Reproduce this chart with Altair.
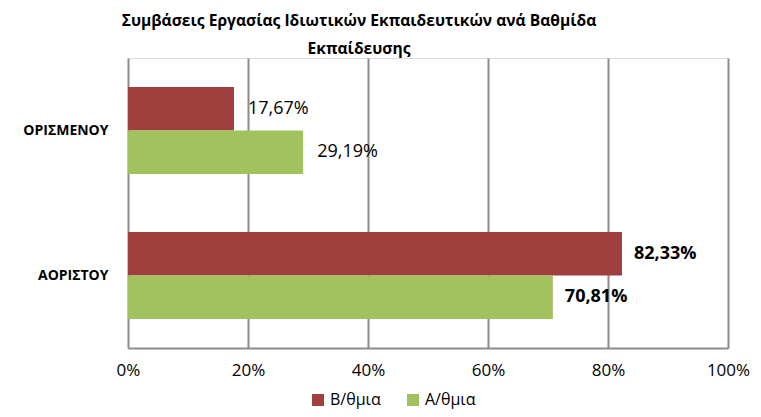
import altair as alt
import pandas as pd

categories = ["ΟΡΙΣΜΕΝΟΥ", "ΑΟΡΙΣΤΟΥ"]
series = ["Β/θμια", "Α/θμια"]
values_b = [17.67, 82.33]
values_a = [29.19, 70.81]
colors = ["#A0403E", "#A2C25F"]
tick_values = [0, 0.2, 0.4, 0.6, 0.8, 1.0]

rows = []
for i, c in enumerate(categories):
    for s, vals in zip(series, [values_b, values_a]):
        v = vals[i]
        rows.append({"cat": c, "series": s, "value": v / 100,
                     "label": f"{v:.2f}".replace(".", ",") + "%"})
df = pd.DataFrame(rows)

font = "Open Sans"

y = alt.Y("cat:N", sort=categories, title=None,
          scale=alt.Scale(paddingInner=0.40, paddingOuter=0.20),
          axis=alt.Axis(labelFontWeight="bold", labelFontSize=14, labelPadding=20,
                        ticks=False, domain=False, labelColor="black", labelFont=font))
yoff = alt.YOffset("series:N", sort=series)
x = alt.X("value:Q", scale=alt.Scale(domain=[0, 1]),
          axis=alt.Axis(format=".0%", values=tick_values, grid=True, gridColor="#8c8c8c",
                        gridWidth=2, domainColor="#8c8c8c", domainWidth=2, ticks=False,
                        labelFontSize=17, labelPadding=14, labelColor="black",
                        labelFlush=False, labelFont=font, title=None))

base = alt.Chart(df)
bars = base.mark_bar(opacity=1).encode(
    x=x, y=y, yOffset=yoff,
    color=alt.Color("series:N", sort=series,
                    scale=alt.Scale(domain=series, range=colors),
                    legend=alt.Legend(title=None, orient="none", legendX=182, legendY=334,
                                      direction="horizontal", symbolType="square",
                                      symbolSize=144, labelFontSize=16, labelFont=font,
                                      labelColor="black", columnPadding=24, padding=0,
                                      symbolStrokeWidth=0, labelOffset=4)),
)
labels_normal = base.transform_filter(alt.datum.cat == categories[0]).mark_text(
    align="left", baseline="middle", dx=14, fontSize=18, font=font, color="black"
).encode(x="value:Q", y=alt.Y("cat:N", sort=categories), yOffset=yoff, text="label:N")
labels_bold = base.transform_filter(alt.datum.cat == categories[1]).mark_text(
    align="left", baseline="middle", dx=12, fontSize=18, font=font, color="black",
    fontWeight="bold"
).encode(x="value:Q", y=alt.Y("cat:N", sort=categories), yOffset=yoff, text="label:N")

chart = alt.layer(bars, labels_normal, labels_bold).properties(
    width=600, height=290,
    title=alt.TitleParams(
        text=["Συμβάσεις Εργασίας Ιδιωτικών Εκπαιδευτικών ανά Βαθμίδα", "Εκπαίδευσης"],
        fontSize=15.6, fontWeight="bold", font=font, anchor="middle", dx=-69,
        lineHeight=28, offset=0, color="black"),
    autosize=alt.AutoSizeParams(type="none"),
    padding={"left": 120, "top": 50, "right": 25, "bottom": 61},
).configure_view(stroke=None).configure(background="white")

chart.save("out.html", embed_options={"renderer": "svg", "actions": False})
